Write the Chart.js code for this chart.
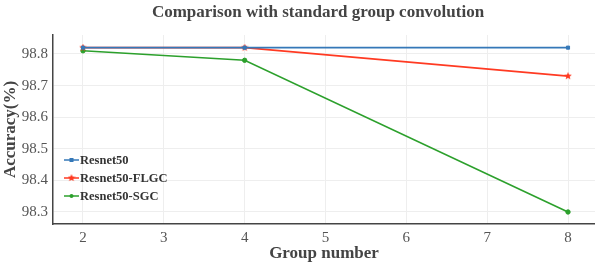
<!DOCTYPE html>
<html><head><meta charset="utf-8">
<script src="https://cdn.jsdelivr.net/npm/chart.js@4/dist/chart.umd.min.js"></script>
<style>html,body{margin:0;padding:0;background:#fff}#wrap{width:595px;height:264px;position:relative}</style>
</head><body><div id="wrap"><canvas id="c" width="595" height="264"></canvas></div>
<script>
const groups = [2, 4, 8];
const resnet50 = [98.82, 98.82, 98.82];
const flgc = [98.82, 98.82, 98.73];
const sgc = [98.81, 98.78, 98.30];
const xTicks = [2, 3, 4, 5, 6, 7, 8];
const yTicks = [98.3, 98.4, 98.5, 98.6, 98.7, 98.8];
const seriesNames = ['Resnet50', 'Resnet50-FLGC', 'Resnet50-SGC'];
const colors = ['#3578b8', '#ff3a22', '#2ca02c'];
const titleText = 'Comparison with standard group convolution';

const toPts = arr => groups.map((g, i) => ({x: g, y: arr[i]}));
const serif = "'Liberation Serif', 'DejaVu Serif', serif";

function starImage(color, size) {
  const c = document.createElement('canvas');
  c.width = size; c.height = size;
  const g = c.getContext('2d');
  const cx = size / 2, cy = size / 2, R = size / 2, r = R * 0.45;
  g.beginPath();
  for (let k = 0; k < 10; k++) {
    const a = -Math.PI / 2 + k * Math.PI / 5;
    const rr = k % 2 ? r : R;
    g.lineTo(cx + rr * Math.cos(a), cy + rr * Math.sin(a));
  }
  g.closePath();
  g.fillStyle = color; g.fill();
  return c;
}
const star = starImage(colors[1], 8);
const markers = ['rect', star, 'circle'];

const titleLegend = {
  id: 'titleLegend',
  afterDraw(chart) {
    const ctx = chart.ctx;
    ctx.save();
    ctx.fillStyle = '#444';
    ctx.font = "bold 17px " + serif;
    ctx.textAlign = 'center';
    ctx.textBaseline = 'middle';
    ctx.fillText(titleText, 318, 13);
    ctx.font = "bold 12.5px " + serif;
    ctx.textAlign = 'left';
    seriesNames.forEach((n, i) => {
      const y = 160 + i * 18;
      ctx.strokeStyle = colors[i];
      ctx.lineWidth = 1.5;
      ctx.beginPath(); ctx.moveTo(64, y); ctx.lineTo(79, y); ctx.stroke();
      ctx.fillStyle = colors[i];
      if (i === 0) ctx.fillRect(69.5, y - 2, 4, 4);
      else if (i === 1) ctx.drawImage(star, 67.5, y - 4);
      else { ctx.beginPath(); ctx.arc(71.5, y, 2, 0, Math.PI * 2); ctx.fill(); }
      ctx.fillStyle = '#333';
      ctx.fillText(n, 80, y + 1);
    });
    ctx.restore();
  }
};

new Chart(document.getElementById('c'), {
  type: 'line',
  data: {
    datasets: [resnet50, flgc, sgc].map((d, i) => ({
      label: seriesNames[i],
      data: toPts(d),
      borderColor: colors[i],
      backgroundColor: colors[i],
      borderWidth: 1.6,
      pointStyle: markers[i],
      pointRadius: 2.2,
      pointBorderWidth: 1,
      tension: 0
    }))
  },
  options: {
    responsive: false,
    animation: false,
    layout: {autoPadding: false, padding: {top: 35, right: 0, left: 0, bottom: 0}},
    plugins: {legend: {display: false}, title: {display: false}, tooltip: {enabled: false}},
    scales: {
      x: {
        type: 'linear', min: 1.629, max: 8.334,
        afterBuildTicks: s => { s.ticks = xTicks.map(v => ({value: v})); },
        afterFit: s => { s.height = 40; },
        grid: {color: '#eeeeee', lineWidth: 1, drawTicks: false},
        border: {color: '#444', width: 1.5},
        ticks: {color: '#555', font: {family: serif, size: 15}, padding: 5},
        title: {display: true, text: 'Group number', color: '#444', font: {family: serif, size: 17, weight: 'bold'}, padding: {top: -4, bottom: 0}}
      },
      y: {
        type: 'linear', min: 98.262, max: 98.86,
        afterBuildTicks: s => { s.ticks = yTicks.map(v => ({value: v})); },
        afterFit: s => { s.width = 53; },
        grid: {color: '#eeeeee', lineWidth: 1, drawTicks: false},
        border: {color: '#444', width: 1.5},
        ticks: {color: '#555', font: {family: serif, size: 15}, padding: 5, callback: v => v.toFixed(1)},
        title: {display: true, text: 'Accuracy(%)', color: '#444', font: {family: serif, size: 17, weight: 'bold'}, padding: {top: 0, bottom: 0}}
      }
    }
  },
  plugins: [titleLegend]
});
</script></body></html>
